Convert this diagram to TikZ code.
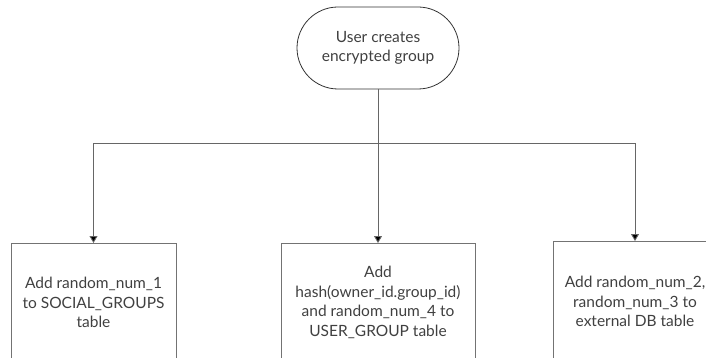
\documentclass[tikz,border=0pt]{standalone}
\usepackage{fontspec}
\setmainfont{Lato}
\usetikzlibrary{arrows.meta,shapes.misc}
\begin{document}
\begin{tikzpicture}[x=1pt,y=-1pt,
  every node/.style={font=\fontsize{15.5}{19.5}\selectfont, text=black!75, align=center},
  box/.style={draw=black!55, line width=0.9pt, inner sep=0pt, anchor=north},
  term/.style={draw=black!80, line width=0.8pt, rounded rectangle, minimum width=162pt, minimum height=82pt, inner sep=0pt},
  conn/.style={draw=black!60, line width=0.9pt},
  arr/.style={conn, -{Triangle[width=8pt,length=7pt,fill=black]}}]
\useasboundingbox (0,0) rectangle (706,358);
\clip (0,0) rectangle (706,358);
\node[term] (top) at (378,48) {User creates\\encrypted group};
\node[box, minimum width=165pt, minimum height=118pt] (b1) at (93.5,243) {Add random\_num\_1\\to SOCIAL\_GROUPS\\table};
\node[box, minimum width=194pt, minimum height=118pt] (b2) at (378,243) {Add\\hash(owner\_id.group\_id)\\and random\_num\_4 to\\USER\_GROUP table};
\node[box, minimum width=164pt, minimum height=120pt] (b3) at (635,241) {Add random\_num\_2,\\random\_num\_3 to\\external DB table};
\coordinate (j) at (378,143);
\draw[conn] (top.south) -- (j);
\draw[arr] (j) -| (b1.north);
\draw[arr] (j) -| (b3.north);
\draw[arr] (j) -- (b2.north);
\end{tikzpicture}
\end{document}
